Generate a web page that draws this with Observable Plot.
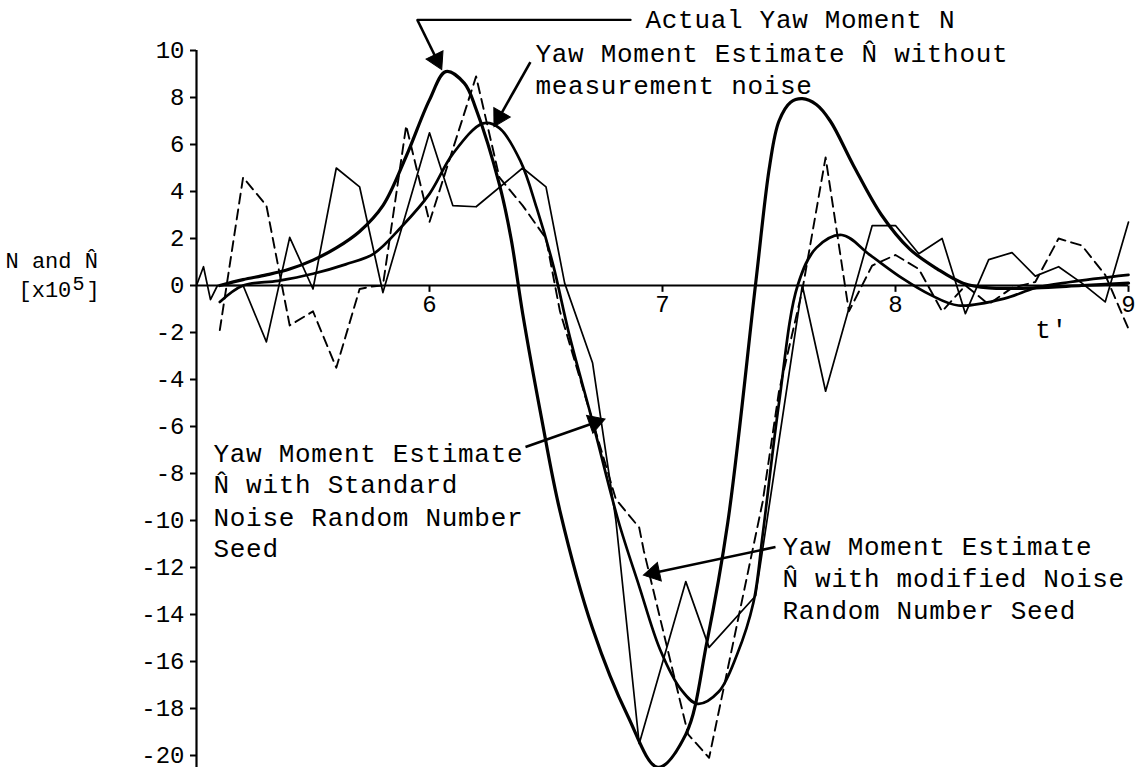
<!DOCTYPE html>
<html><head><meta charset="utf-8">
<script src="https://cdn.jsdelivr.net/npm/d3@7"></script>
<script src="https://cdn.jsdelivr.net/npm/@observablehq/plot@0.6"></script>
<style>
body{margin:0;background:#fff;}
#chart svg{display:block;}
</style></head>
<body><div id="chart"></div>
<script>
// ---- axis ticks ----
const tTicks = [6, 7, 8, 9];
const vTicks = [-20, -18, -16, -14, -12, -10, -8, -6, -4, -2, 0, 2, 4, 6, 8, 10];

// ---- Actual Yaw Moment N (thick smooth) ----
const actualT = [5.1, 5.2, 5.3, 5.4, 5.5, 5.6, 5.7, 5.8, 5.9, 6.0, 6.07, 6.15, 6.2, 6.3, 6.35, 6.4, 6.48, 6.56, 6.7, 6.85, 6.98, 7.1, 7.19, 7.28, 7.4, 7.46, 7.5, 7.55, 7.6, 7.66, 7.72, 7.82, 7.94, 8.06, 8.18, 8.29, 8.4, 8.6, 8.8, 9.0];
const actualV = [0, 0.25, 0.45, 0.7, 1.08, 1.6, 2.3, 3.4, 5.5, 7.9, 9.1, 8.6, 7.5, 4.3, 2.0, -1.2, -5.6, -9.6, -14.6, -18.3, -20.5, -19.1, -15.2, -10.1, 0.1, 5.1, 7.0, 7.8, 7.95, 7.7, 7.0, 5.1, 3.0, 1.56, 0.7, 0.1, -0.1, -0.1, 0.0, 0.1];

// ---- Estimate without measurement noise (thick smooth) ----
const noNoiseT = [5.1, 5.2, 5.35, 5.5, 5.64, 5.76, 5.88, 6.0, 6.1, 6.23, 6.3, 6.39, 6.46, 6.53, 6.6, 6.7, 6.81, 6.9, 6.99, 7.08, 7.15, 7.24, 7.32, 7.39, 7.43, 7.5, 7.58, 7.66, 7.77, 7.89, 8.03, 8.15, 8.27, 8.47, 8.6, 8.75, 9.0];
const noNoiseV = [-0.7, 0, 0.2, 0.5, 0.9, 1.35, 2.5, 3.9, 5.6, 6.9, 6.7, 5.3, 3.3, 0.9, -2.1, -5.8, -10.0, -12.8, -15.5, -17.2, -17.8, -17.3, -15.7, -13.5, -10.6, -5.0, 0, 1.6, 2.15, 1.3, 0.3, -0.4, -0.85, -0.55, -0.1, 0.15, 0.45];

// ---- Estimate, standard noise seed (thin solid) ----
const standardT = [5.0, 5.03, 5.06, 5.09, 5.2, 5.3, 5.4, 5.5, 5.6, 5.7, 5.8, 6.0, 6.1, 6.2, 6.4, 6.5, 6.58, 6.7, 6.8, 6.9, 7.1, 7.2, 7.4, 7.6, 7.7, 7.9, 8.0, 8.1, 8.2, 8.3, 8.4, 8.5, 8.6, 8.7, 8.8, 8.9, 9.0];
const standardV = [0, 0.8, -0.6, 0, 0, -2.4, 2.05, -0.15, 5.0, 4.2, -0.3, 6.5, 3.4, 3.35, 5.0, 4.2, 0.1, -3.3, -10.0, -19.5, -12.6, -15.4, -13.2, 0, -4.5, 2.55, 2.55, 1.35, 2.0, -1.2, 1.1, 1.4, 0.4, 0.8, 0.1, -0.7, 2.7];

// ---- Estimate, modified noise seed (dashed) ----
const modifiedT = [5.1, 5.2, 5.3, 5.4, 5.5, 5.6, 5.7, 5.75, 5.8, 5.9, 6.0, 6.2, 6.3, 6.4, 6.5, 6.56, 6.8, 6.9, 6.92, 7.11, 7.2, 7.43, 7.5, 7.6, 7.7, 7.8, 7.9, 8.0, 8.1, 8.2, 8.3, 8.4, 8.5, 8.6, 8.7, 8.8, 8.9, 9.0];
const modifiedV = [-1.9, 4.6, 3.4, -1.7, -1.1, -3.5, -0.15, -0.05, 0, 6.8, 2.7, 8.9, 4.6, 3.4, 2.0, -1.1, -9.1, -10.3, -11.3, -19.1, -20.1, -9.2, -4.5, -0.2, 5.45, -1.1, 0.85, 1.3, 0.7, -1.1, 0, -0.8, -0.1, 0.15, 2.0, 1.7, 0.45, -1.85];

const rows = (ts, vs) => ts.map((t, i) => ({t, v: vs[i]}));
const actual = rows(actualT, actualV);
const noNoise = rows(noNoiseT, noNoiseV);
const standard = rows(standardT, standardV);
const modified = rows(modifiedT, modifiedV);

const F = "'Liberation Mono', 'DejaVu Sans Mono', monospace";

const annotations = [
  {t: 6.927, v: 11.3, text: "Actual Yaw Moment N"},
  {t: 6.455, v: 9.85, text: "Yaw Moment Estimate N\u0302 without"},
  {t: 6.455, v: 8.49, text: "measurement noise"},
  {t: 5.073, v: -7.17, text: "Yaw Moment Estimate"},
  {t: 5.073, v: -8.49, text: "N\u0302 with Standard"},
  {t: 5.073, v: -9.89, text: "Noise Random Number"},
  {t: 5.073, v: -11.21, text: "Seed"},
  {t: 7.515, v: -11.13, text: "Yaw Moment Estimate"},
  {t: 7.515, v: -12.49, text: "N\u0302 with modified Noise"},
  {t: 7.515, v: -13.85, text: "Random Number Seed"}
];
const arrows = [
  {x1: 5.948, y1: 11.3, x2: 6.047, y2: 9.3},
  {x1: 6.433, y1: 9.51, x2: 6.283, y2: 6.87},
  {x1: 6.412, y1: -6.87, x2: 6.742, y2: -5.72},
  {x1: 7.485, y1: -11.13, x2: 6.93, y2: -12.3}
];

// plot geometry (pixels per data unit), used to orient the filled arrow heads
const W = 1146, H = 767, ML = 196, MR = 18, MT = 50, MB = 12;
const kx = (W - ML - MR) / 4, ky = (H - MT - MB) / 30;
const heads = arrows.map(a => {
  const dx = (a.x2 - a.x1) * kx, dy = -(a.y2 - a.y1) * ky;
  const L = Math.hypot(dx, dy), ux = dx / L, uy = dy / L;
  const back = 8;
  return {t: a.x2 - back * ux / kx, v: a.y2 + back * uy / ky, rot: Math.atan2(ux, -uy) * 180 / Math.PI};
});

const chart = Plot.plot({
  width: W,
  height: H,
  marginLeft: ML,
  marginRight: MR,
  marginTop: MT,
  marginBottom: MB,
  x: {domain: [5, 9], axis: null},
  y: {domain: [-20, 10]},
  style: {fontFamily: F, background: "white", color: "black", overflow: "visible"},
  marks: [
    Plot.axisY(vTicks, {tickSize: 6, tickPadding: 6, fontSize: 24, strokeWidth: 2, tickFormat: d => String(d), label: null}),
    Plot.ruleX([5], {y1: 10, y2: -20.6, strokeWidth: 2.2}),
    Plot.ruleY([0], {x1: 5, x2: 9, strokeWidth: 2.2}),
    Plot.link(tTicks, {x1: d => d, x2: d => d, y1: 0, y2: -0.27, strokeWidth: 2}),
    Plot.text(tTicks, {x: d => d, y: 0, dy: 19, text: d => String(d), fontSize: 24}),
    Plot.line(standard, {x: "t", y: "v", strokeWidth: 1.7}),
    Plot.line(modified, {x: "t", y: "v", strokeWidth: 1.9, strokeDasharray: "10,6"}),
    Plot.line(noNoise, {x: "t", y: "v", curve: "catmull-rom", strokeWidth: 2.7}),
    Plot.line(actual, {x: "t", y: "v", curve: "catmull-rom", strokeWidth: 3.2}),
    Plot.line([{t: 6.863, v: 11.3}, {t: 5.948, v: 11.3}], {x: "t", y: "v", strokeWidth: 2.2}),
    Plot.link(arrows, {x1: "x1", y1: "y1", x2: "x2", y2: "y2", strokeWidth: 2.6}),
    Plot.dot(heads, {x: "t", y: "v", symbol: "triangle", r: 7, fill: "black", stroke: "black", strokeWidth: 1, rotate: "rot"}),
    Plot.text(annotations, {x: "t", y: "v", text: "text", textAnchor: "start", fontSize: 26}),
    Plot.text(["t'"], {x: 8.6, y: -1.9, text: d => d, fontSize: 26, textAnchor: "start"}),
    Plot.text(["N and N\u0302"], {x: 5, y: 1.05, dx: -191, text: d => d, textAnchor: "start", fontSize: 22}),
    Plot.text(["[x10"], {x: 5, y: -0.2, dx: -178, text: d => d, textAnchor: "start", fontSize: 22}),
    Plot.text(["5"], {x: 5, y: -0.2, dx: -124, dy: -7, text: d => d, textAnchor: "start", fontSize: 20}),
    Plot.text(["]"], {x: 5, y: -0.2, dx: -110, text: d => d, textAnchor: "start", fontSize: 22})
  ]
});
// typewriter-like spacing for the annotation texts (font-size 26)
d3.select(chart).selectAll('g[font-size="26"]').attr("letter-spacing", "0.7px");
document.getElementById("chart").appendChild(chart);
</script></body></html>
